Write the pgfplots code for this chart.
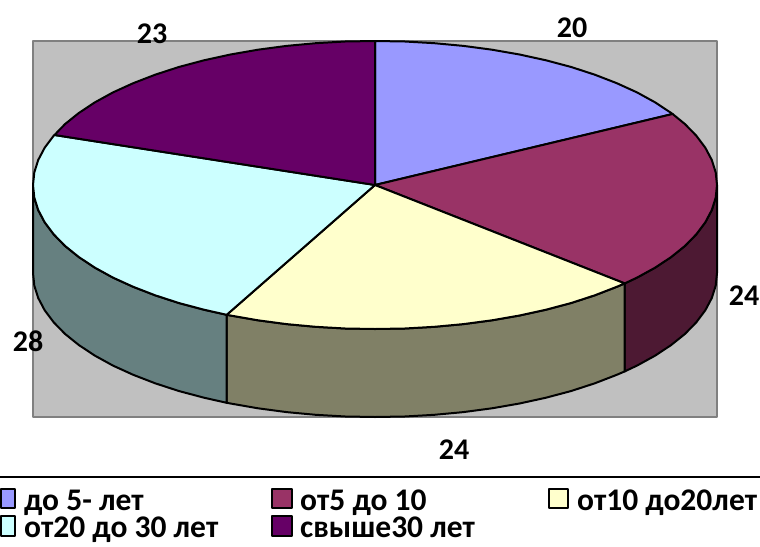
\documentclass[border=0pt]{standalone}
\usepackage{fontspec}
\setmainfont{Carlito}
\usepackage{pgfplots}
\pgfplotsset{compat=1.18}
\definecolor{bg}{HTML}{C0C0C0}
\definecolor{fr}{HTML}{808080}
\definecolor{sA}{HTML}{9999FF}
\definecolor{sB}{HTML}{993366}
\definecolor{sC}{HTML}{FFFFCC}
\definecolor{sD}{HTML}{CCFFFF}
\definecolor{sE}{HTML}{660066}
\definecolor{dB}{HTML}{4D1933}
\definecolor{dC}{HTML}{808066}
\definecolor{dD}{HTML}{668080}
\tikzset{
  lab/.style={font=\fontsize{30}{30}\selectfont\bfseries,text=black,inner sep=0pt},
  leg/.style={font=\fontsize{31.5}{31.5}\selectfont\bfseries,text=black,inner sep=0pt,anchor=base west}
}
\begin{document}
\begin{tikzpicture}
\clip (0,0) rectangle (760pt,546pt);
\begin{axis}[
  at={(0,0)},anchor=south west,
  scale only axis,width=760pt,height=546pt,
  xmin=0,xmax=760,ymin=0,ymax=546,y dir=reverse,
  axis lines=none,clip=false,
  every axis plot/.append style={line join=round}
]
% plot area
\addplot[fill=bg,draw=fr,line width=2.2pt] coordinates {(33,41)(717,41)(717,417)(33,417)} -- cycle;
% sides
\addplot[fill=dB,draw=black,line width=2pt] coordinates {(717,185)(715.7,197.6)(711.8,210)(705.3,222.3)(696.4,234.2)(685,245.9)(671.2,257)(655.2,267.6)(637,277.6)(624.7,283.4)(624.7,371.4)(637,365.6)(655.2,355.6)(671.2,345)(685,333.9)(696.4,322.2)(705.3,310.3)(711.8,298)(715.7,285.6)(717,273)} -- cycle;
\addplot[fill=dC,draw=black,line width=2pt] coordinates {(624.7,283.4)(616.8,286.8)(594.8,295.3)(571.2,303)(546,309.7)(519.5,315.5)(492,320.3)(463.5,324.1)(434.4,326.8)(404.8,328.5)(375,329)(345.2,328.5)(315.6,326.8)(286.5,324.1)(258,320.3)(230.5,315.5)(226.7,314.8)(226.7,402.8)(230.5,403.5)(258,408.3)(286.5,412.1)(315.6,414.8)(345.2,416.5)(375,417)(404.8,416.5)(434.4,414.8)(463.5,412.1)(492,408.3)(519.5,403.5)(546,397.7)(571.2,391)(594.8,383.3)(616.8,374.8)(624.7,371.4)} -- cycle;
\addplot[fill=dD,draw=black,line width=2pt] coordinates {(226.7,314.8)(204,309.7)(178.8,303)(155.2,295.3)(133.2,286.8)(113,277.6)(94.8,267.6)(78.8,257)(65,245.9)(53.6,234.2)(44.7,222.3)(38.2,210)(34.3,197.6)(33,185)(33,273)(34.3,285.6)(38.2,298)(44.7,310.3)(53.6,322.2)(65,333.9)(78.8,345)(94.8,355.6)(113,365.6)(133.2,374.8)(155.2,383.3)(178.8,391)(204,397.7)(226.7,402.8)} -- cycle;
% top slices
\addplot[fill=sA,draw=black,line width=2pt] coordinates {(375,185)(375,41)(404.8,41.5)(434.4,43.2)(463.5,45.9)(492,49.7)(519.5,54.5)(546,60.3)(571.2,67)(594.8,74.7)(616.8,83.2)(637,92.4)(655.2,102.4)(671.2,113)(672.6,114)} -- cycle;
\addplot[fill=sB,draw=black,line width=2pt] coordinates {(375,185)(672.6,114)(685,124.1)(696.4,135.8)(705.3,147.7)(711.8,160)(715.7,172.4)(717,185)(715.7,197.6)(711.8,210)(705.3,222.3)(696.4,234.2)(685,245.9)(671.2,257)(655.2,267.6)(637,277.6)(624.7,283.4)} -- cycle;
\addplot[fill=sC,draw=black,line width=2pt] coordinates {(375,185)(624.7,283.4)(616.8,286.8)(594.8,295.3)(571.2,303)(546,309.7)(519.5,315.5)(492,320.3)(463.5,324.1)(434.4,326.8)(404.8,328.5)(375,329)(345.2,328.5)(315.6,326.8)(286.5,324.1)(258,320.3)(230.5,315.5)(226.7,314.8)} -- cycle;
\addplot[fill=sD,draw=black,line width=2pt] coordinates {(375,185)(226.7,314.8)(204,309.7)(178.8,303)(155.2,295.3)(133.2,286.8)(113,277.6)(94.8,267.6)(78.8,257)(65,245.9)(53.6,234.2)(44.7,222.3)(38.2,210)(34.3,197.6)(33,185)(34.3,172.4)(38.2,160)(44.7,147.7)(53.6,135.8)(54.5,135)} -- cycle;
\addplot[fill=sE,draw=black,line width=2pt] coordinates {(375,185)(54.5,135)(65,124.1)(78.8,113)(94.8,102.4)(113,92.4)(133.2,83.2)(155.2,74.7)(178.8,67)(204,60.3)(230.5,54.5)(258,49.7)(286.5,45.9)(315.6,43.2)(345.2,41.5)(375,41)} -- cycle;
% value labels
\node[lab] at (axis cs:572,28) {20};
\node[lab] at (axis cs:744,296) {24};
\node[lab] at (axis cs:454,450) {24};
\node[lab] at (axis cs:28,341) {28};
\node[lab] at (axis cs:152,34) {23};
% legend
\addplot[draw=black,line width=2pt] coordinates {(0,477)(760,477)};
\addplot[fill=sA,draw=black,line width=2pt] coordinates {(1,489)(15,489)(15,508)(1,508)} -- cycle;
\addplot[fill=sB,draw=black,line width=2pt] coordinates {(272,489)(292,489)(292,508)(272,508)} -- cycle;
\addplot[fill=sC,draw=black,line width=2pt] coordinates {(549,489)(568,489)(568,508)(549,508)} -- cycle;
\addplot[fill=sD,draw=black,line width=2pt] coordinates {(1,516)(15,516)(15,536)(1,536)} -- cycle;
\addplot[fill=sE,draw=black,line width=2pt] coordinates {(272,516)(292,516)(292,536)(272,536)} -- cycle;
\node[leg] at (axis cs:24,510) {до 5- лет};
\node[leg] at (axis cs:300,510) {от5 до 10};
\node[leg] at (axis cs:577,510) {от10 до20лет};
\node[leg] at (axis cs:24,537) {от20 до 30 лет};
\node[leg] at (axis cs:300,537) {свыше30 лет};
\end{axis}
\end{tikzpicture}
\end{document}
